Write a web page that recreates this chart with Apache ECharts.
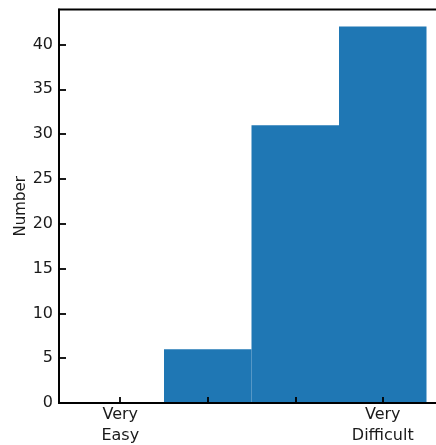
<!DOCTYPE html>
<html><head><meta charset="utf-8">
<script src="https://cdn.jsdelivr.net/npm/echarts@6/dist/echarts.min.js"></script>
<style>html,body{margin:0;padding:0;background:#fff}#c{width:436px;height:445px}</style>
</head><body><div id="c"></div>
<script>
const categories = [1, 2, 3, 4];
const values = [0, 6, 31, 42];
const xTickLabels = {1: 'Very\nEasy', 4: 'Very\nDifficult'};
const yTicks = [0, 5, 10, 15, 20, 25, 30, 35, 40];

const chart = echarts.init(document.getElementById('c'), null, {renderer: 'canvas'});
const font = 'DejaVu Sans';
chart.setOption({
  animation: false,
  grid: {left: 59, top: 9.5, width: 385, height: 393.5, outerBoundsMode: 'none', containLabel: false,
         show: true, borderColor: '#000', borderWidth: 1.8, backgroundColor: 'transparent'},
  xAxis: {
    type: 'value', min: 0.3, max: 4.7, z: 5,
    axisLine: {show: true, onZero: false, lineStyle: {color: '#000', width: 1.8}},
    axisTick: {show: true, inside: true, length: 6, customValues: categories, lineStyle: {color: '#000', width: 1.8}},
    axisLabel: {customValues: [1, 4], formatter: v => xTickLabels[v] || '', fontFamily: font, fontSize: 16, color: '#1a1a1a', lineHeight: 21, margin: 1},
    splitLine: {show: false}
  },
  yAxis: {
    type: 'value', min: 0, max: 43.9, z: 5,
    name: 'Number', nameLocation: 'middle', nameRotate: 90, nameGap: 30, nameMoveOverlap: false,
    nameTextStyle: {fontFamily: font, fontSize: 15, color: '#1a1a1a'},
    axisLine: {show: true, lineStyle: {color: '#000', width: 1.8}},
    axisTick: {show: true, inside: true, length: 7, customValues: yTicks, lineStyle: {color: '#000', width: 1.8}},
    axisLabel: {customValues: yTicks, fontFamily: font, fontSize: 16, color: '#1a1a1a', margin: 6},
    splitLine: {show: false}
  },
  series: [{
    type: 'bar',
    data: categories.map((c, i) => [c, values[i]]),
    barWidth: 87.5,
    itemStyle: {color: '#1f77b4'},
    z: 1
  }]
});
</script></body></html>
